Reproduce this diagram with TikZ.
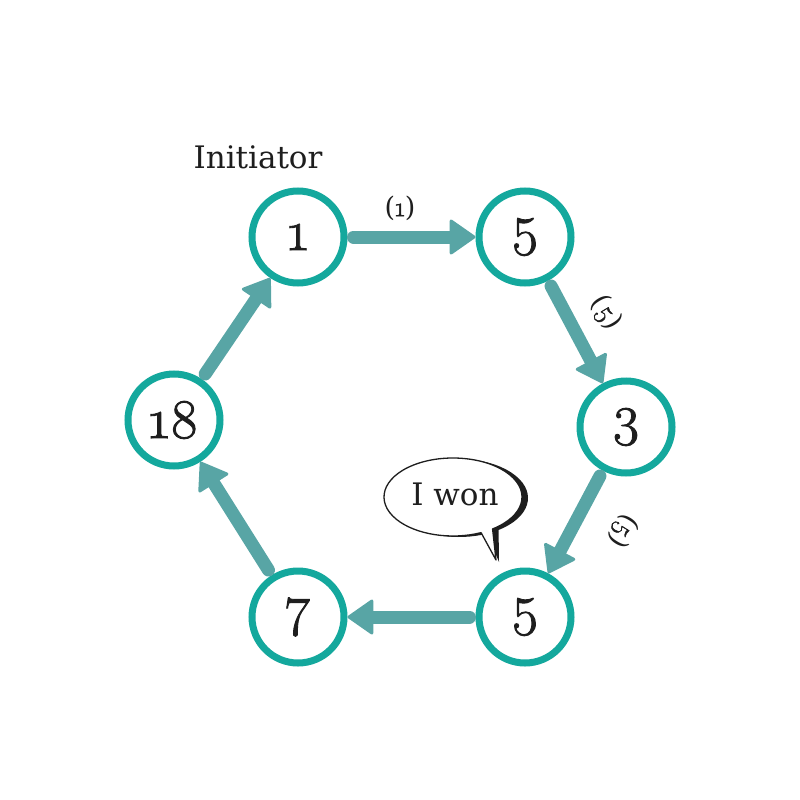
\documentclass[tikz,border=0pt]{standalone}
\usepackage{fontspec}
\usetikzlibrary{positioning}
\usetikzlibrary{calc}
\usetikzlibrary{arrows.meta}
\newfontfamily\seriflike{DejaVu Serif}
\newfontfamily\ringdigits{Latin Modern Roman}[Numbers=OldStyle,FakeBold=1.6]
\definecolor{ringteal}{RGB}{20,168,157}
\definecolor{arrowteal}{RGB}{88,165,165}
\definecolor{inkgray}{RGB}{30,30,30}
\tikzset{
	ring/.style={circle,draw=ringteal,line width=7pt,minimum size=92pt,inner sep=0pt,text=inkgray,font=\ringdigits\fontsize{56}{60}\selectfont},
	flow/.style={draw=arrowteal,line width=13pt,line cap=round,shorten <=6pt,
		-{Triangle[length=27pt,width=37pt,line width=3pt,round]}},
	msg/.style={text=inkgray,font=\seriflike\fontsize{27}{30}\selectfont},
	caption/.style={text=inkgray,font=\seriflike\fontsize{31}{36}\selectfont},
}
\newcommand{\msgdigit}[1]{{\ringdigits#1}}
\begin{document}
\begin{tikzpicture}[x=1pt,y=-1pt]
	\useasboundingbox (0,0) rectangle (800,800);
	
	% ring of processes.....................
	\node [ring] (p1) at (298,237) {1};
	\node [ring] (p5a) at (525,237) {5};
	\node [ring] (p3) at (626,427) {3};
	\node [ring] (p5b) at (525,617) {5};
	\node [ring] (p7) at (298,617) {7};
	\node [ring] (p18) at (174,420) {18};
	
	\node [caption] (init) at (258,157) {Initiator};
	
	% messages passed around..................
	\draw [flow] (p1) to (p5a);
	\draw [flow] (p5a) to (p3);
	\draw [flow] (p3) to (p5b);
	\draw [flow] (p5b) to (p7);
	\draw [flow] (p7) to (p18);
	\draw [flow] (p18) to (p1);
	
	\node [msg] (m1) at (400,208) {(\msgdigit{1})};
	\node [msg,rotate=-59] (m2) at (606,313) {(\msgdigit{5})};
	\node [msg,rotate=-122] (m3) at (623,531) {(\msgdigit{5})};
	
	% speech bubble...........................
	\coordinate (bubc) at (453,497);
	\coordinate (bubtip) at (496,560);
	\fill [inkgray] ($(bubc)+(6,1)+(55:69 and 39)$) arc [start angle=55,end angle=-294,x radius=69,y radius=39] -- ($(bubtip)+(3,2)$) -- cycle;
	\draw [inkgray,fill=white,line width=1.3pt,line join=round] ($(bubc)+(55:69 and 39)$) arc [start angle=55,end angle=-294,x radius=69,y radius=39] -- (bubtip) -- cycle;
	\node [caption] (won) at (455,494) {I won};
	
\end{tikzpicture}
\end{document}
